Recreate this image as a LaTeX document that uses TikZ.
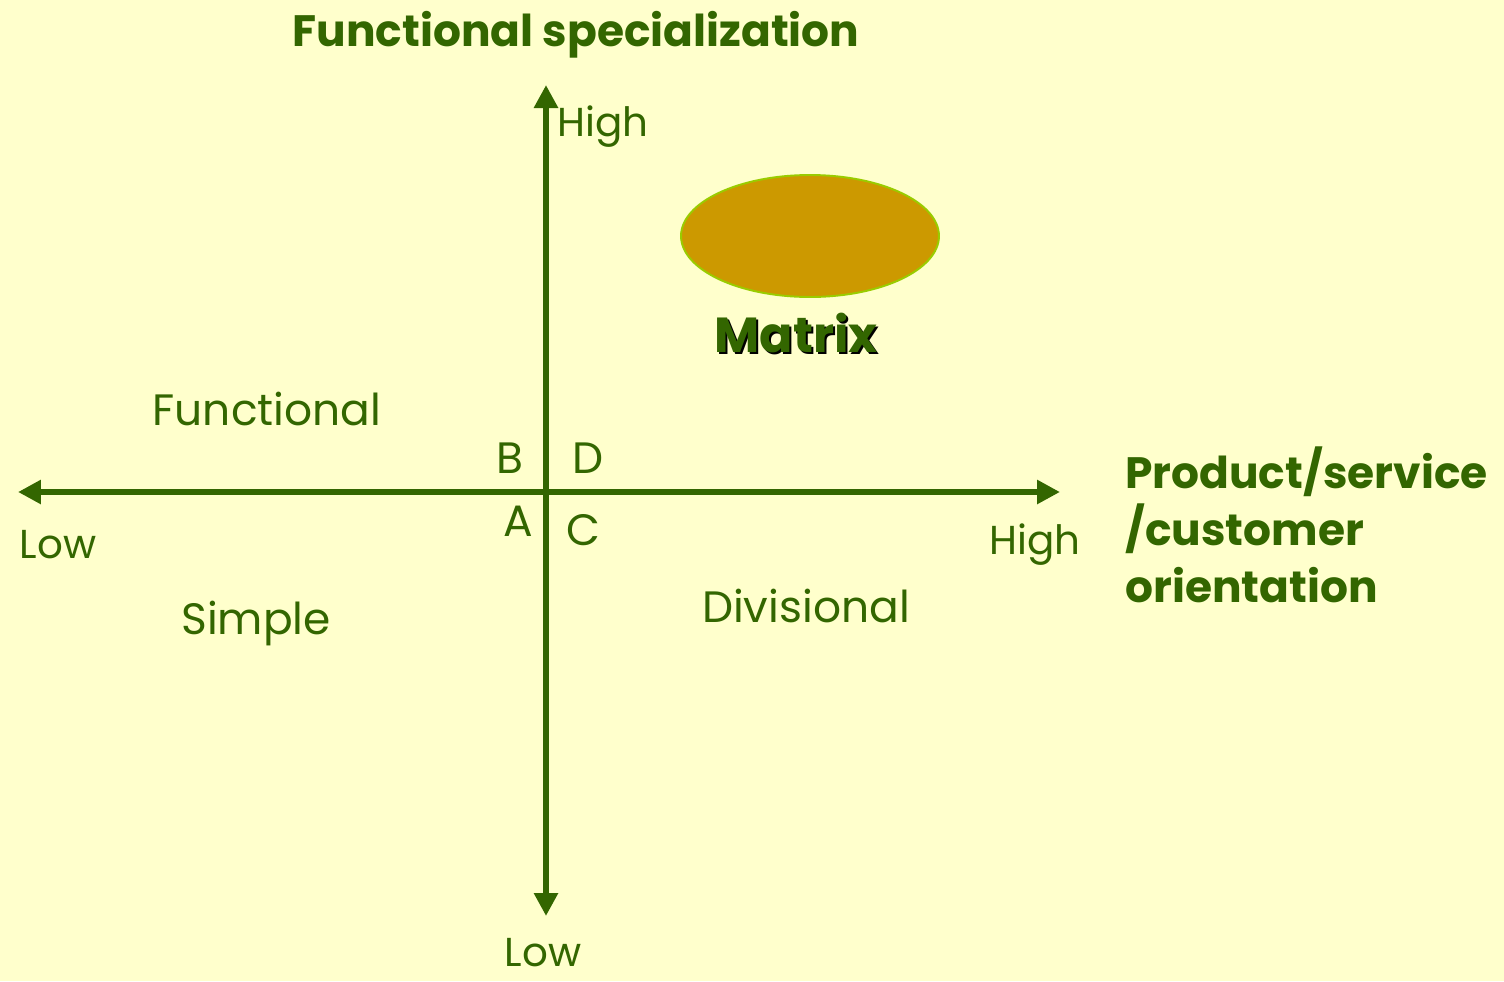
\documentclass[tikz,border=0pt]{standalone}
\usepackage{fontspec}
\setmainfont{Poppins}
\usetikzlibrary{arrows.meta,positioning,shapes.geometric}
\definecolor{paper}{HTML}{FFFFCC}
\definecolor{leaf}{HTML}{336600}
\definecolor{mustard}{HTML}{CC9900}
\definecolor{lime}{HTML}{99CC00}
\tikzset{
  axis/.style={leaf,line width=3.8pt,{Triangle[length=0.46cm,width=0.46cm]}-{Triangle[length=0.46cm,width=0.46cm]}},
  axistitle/.style={text=leaf,font=\fontsize{25}{32.5}\selectfont\bfseries,align=left,inner sep=0pt},
  quadlabel/.style={text=leaf,font=\fontsize{25}{30}\selectfont,inner sep=0pt},
  endlabel/.style={text=leaf,font=\fontsize{23}{28}\selectfont,inner sep=0pt}
}

\begin{document}
\begin{tikzpicture}[x=0.02cm,y=-0.02cm]
  \fill[paper] (0,0) rectangle (1504,981);

  % axes
  \coordinate (xlow) at (18,492);
  \coordinate (xhigh) at (1060,492);
  \coordinate (ylow) at (546,916);
  \coordinate (yhigh) at (546,85);
  \draw[axis] (xlow)--(xhigh);
  \draw[axis] (ylow)--(yhigh);

  \node[axistitle] (ytitle) at (576,35) {Functional specialization};
  \node[axistitle,anchor=west] (xtitle) at (1125,525)
    {Product/service\\/customer\\orientation};

  \node[endlabel,anchor=west] (yhighlabel) at (557,127) {High};
  \node[endlabel] (ylowlabel) at (543,953) {Low};
  \node[endlabel] (xlowlabel) at (58,545) {Low};
  \node[endlabel] (xhighlabel) at (1035,545) {High};

  % quadrant letters
  \node[quadlabel] (qB) at (510,458) {B};
  \node[quadlabel] (qD) at (588,458) {D};
  \node[quadlabel] (qA) at (518,521) {A};
  \node[quadlabel] (qC) at (583,530) {C};

  % structures
  \node[ellipse,fill=mustard,draw=lime,line width=1.1pt,minimum width=5.16cm,minimum height=2.44cm]
    (matrixblob) at (810,236) {};
  \node[axistitle,font=\fontsize{28}{32}\selectfont\bfseries,text=black] (matrixshadow) at (798,335) {Matrix};
  \node[axistitle,font=\fontsize{28}{32}\selectfont\bfseries] (matrix) at (796,333) {Matrix};
  \node[quadlabel] (functional) at (267,409) {Functional};
  \node[quadlabel] (simple) at (256,623) {Simple};
  \node[quadlabel] (divisional) at (806,606) {Divisional};
\end{tikzpicture}
\end{document}
